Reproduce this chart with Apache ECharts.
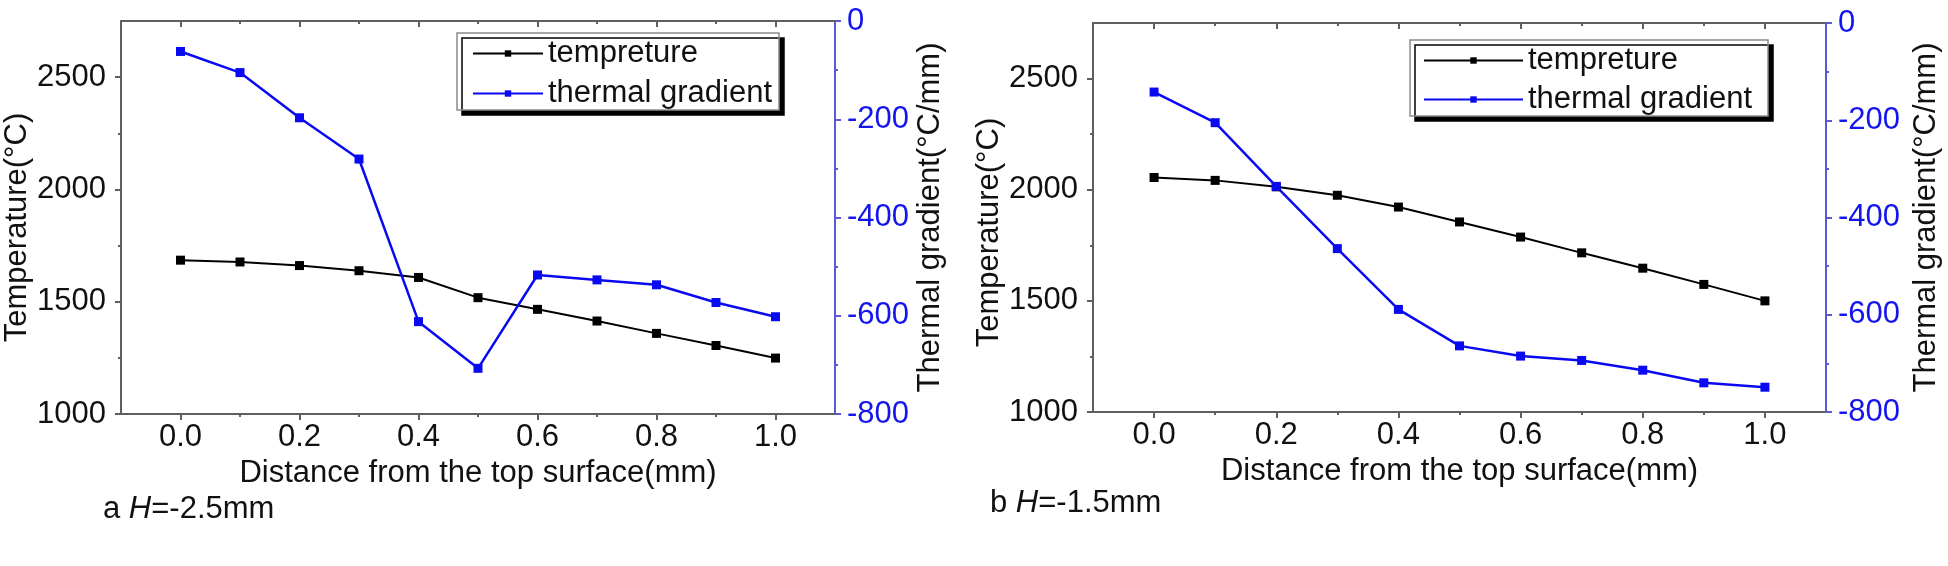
<!DOCTYPE html>
<html>
<head>
<meta charset="utf-8">
<script src="https://cdn.jsdelivr.net/npm/echarts@6/dist/echarts.min.js"></script>
<style>
html,body{margin:0;padding:0;background:#fff;}
#chart{width:1948px;height:566px;}
</style>
</head>
<body>
<div id="chart"></div>
<script>
// ---- data ----
const distance = [0.0, 0.1, 0.2, 0.3, 0.4, 0.5, 0.6, 0.7, 0.8, 0.9, 1.0];
const tempA = [1685, 1677, 1661, 1638, 1608, 1518, 1466, 1414, 1359, 1305, 1249];
const gradA = [-62, -105, -197, -281, -612, -707, -517, -527, -537, -573, -602];
const tempB = [2055, 2042, 2013, 1975, 1922, 1855, 1787, 1716, 1647, 1574, 1500];
const gradB = [-142, -205, -336, -464, -589, -664, -685, -694, -714, -740, -749];
const seriesNames = ['tempreture', 'thermal gradient'];
const xMajorTicks = [0.0, 0.2, 0.4, 0.6, 0.8, 1.0];
const xMinorTicks = [0.1, 0.3, 0.5, 0.7, 0.9];
const tempMajorTicks = [1000, 1500, 2000, 2500];
const tempMinorTicks = [1250, 1750, 2250];
const gradMajorTicks = [-800, -600, -400, -200, 0];
const gradMinorTicks = [-700, -500, -300, -100];
const xTitle = 'Distance from the top surface(mm)';
const yLeftTitle = 'Temperature(°C)';
const yRightTitle = 'Thermal gradient(°C/mm)';

// ---- styling / layout ----
const FONT = "'Liberation Sans', Arial, sans-serif";
const FS = 31;
const AXIS_GRAY = '#5f5f5f';
const AXIS_BLUE = '#5a5ad6';
const LABEL_BLUE = '#1414ee';
const LINE_BLUE = '#0a0af2';

const panels = [
  { grid: { left: 121, top: 21, width: 714, height: 393 },
    temp: tempA, grad: gradA,
    legend: { left: 457, top: 33, itemWidth: 70, padding: [5, 7, 1, 15], itemGap: 9 },
    leftGap: 81, rightGap: 80, leftPad: [0, 20, 0, 0],
    caption: '{n|a }{i|H}{n|=-2.5mm}', capLeft: 103, capTop: 494 },
  { grid: { left: 1093, top: 23, width: 733, height: 389 },
    temp: tempB, grad: gradB,
    legend: { left: 1410, top: 40, itemWidth: 99, padding: [5, 16, 1, 13], itemGap: 8 },
    leftGap: 71, rightGap: 85, leftPad: [0, 30, 0, 0],
    caption: '{n|b }{i|H}{n|=-1.5mm}', capLeft: 990, capTop: 488 }
];

const grids = [], xAxes = [], yAxes = [], series = [], legends = [], titles = [];
const plain = v => String(v);

panels.forEach((p, gi) => {
  grids.push(Object.assign({ containLabel: false }, p.grid));
  const xBase = xAxes.length;
  const common = { type: 'value', gridIndex: gi, min: -0.1, max: 1.1, splitLine: { show: false } };
  // bottom main axis
  xAxes.push(Object.assign({}, common, {
    position: 'bottom',
    axisLine: { onZero: false, lineStyle: { color: AXIS_GRAY, width: 2 } },
    axisTick: { customValues: xMajorTicks, length: 6, inside: false, lineStyle: { color: AXIS_GRAY, width: 2 } },
    axisLabel: { customValues: xMajorTicks, formatter: v => v.toFixed(1), fontSize: FS, fontFamily: FONT, color: '#111', margin: 8 },
    name: xTitle, nameLocation: 'middle', nameGap: 40,
    nameTextStyle: { fontSize: FS, fontFamily: FONT, color: '#111' }
  }));
  // bottom minor ticks
  xAxes.push(Object.assign({}, common, {
    position: 'bottom',
    axisLine: { show: false, onZero: false },
    axisTick: { customValues: xMinorTicks, length: 3, lineStyle: { color: AXIS_GRAY, width: 2 } },
    axisLabel: { show: false }
  }));
  // top axis (major ticks inward)
  xAxes.push(Object.assign({}, common, {
    position: 'top',
    axisLine: { onZero: false, lineStyle: { color: AXIS_GRAY, width: 2 } },
    axisTick: { customValues: xMajorTicks, length: 6, inside: true, lineStyle: { color: AXIS_GRAY, width: 2 } },
    axisLabel: { show: false }
  }));
  xAxes.push(Object.assign({}, common, {
    position: 'top',
    axisLine: { show: false, onZero: false },
    axisTick: { customValues: xMinorTicks, length: 3, inside: true, lineStyle: { color: AXIS_GRAY, width: 2 } },
    axisLabel: { show: false }
  }));

  const yBase = yAxes.length;
  // left temperature axis
  yAxes.push({
    type: 'value', gridIndex: gi, position: 'left', min: 1000, max: 2750,
    splitLine: { show: false },
    axisLine: { show: true, onZero: false, lineStyle: { color: AXIS_GRAY, width: 2 } },
    axisTick: { customValues: tempMajorTicks, length: 6, lineStyle: { color: AXIS_GRAY, width: 2 } },
    axisLabel: { customValues: tempMajorTicks, formatter: plain, fontSize: FS, fontFamily: FONT, color: '#111', margin: 15 },
    name: yLeftTitle, nameLocation: 'middle', nameRotate: 90, nameGap: p.leftGap,
    nameTextStyle: { fontSize: FS, fontFamily: FONT, color: '#111', padding: p.leftPad }
  });
  // right gradient axis
  yAxes.push({
    type: 'value', gridIndex: gi, position: 'right', min: -800, max: 0,
    splitLine: { show: false },
    axisLine: { show: true, onZero: false, lineStyle: { color: AXIS_BLUE, width: 2 } },
    axisTick: { customValues: gradMajorTicks, length: 6, lineStyle: { color: AXIS_BLUE, width: 2 } },
    axisLabel: { customValues: gradMajorTicks, formatter: plain, fontSize: FS, fontFamily: FONT, color: LABEL_BLUE, margin: 12 },
    name: yRightTitle, nameLocation: 'middle', nameRotate: 90, nameGap: p.rightGap,
    nameTextStyle: { fontSize: FS, fontFamily: FONT, color: '#111' }
  });
  // minor tick axes
  yAxes.push({
    type: 'value', gridIndex: gi, position: 'left', min: 1000, max: 2750,
    splitLine: { show: false }, axisLine: { show: false, onZero: false },
    axisTick: { customValues: tempMinorTicks, length: 3, lineStyle: { color: AXIS_GRAY, width: 2 } },
    axisLabel: { show: false }
  });
  yAxes.push({
    type: 'value', gridIndex: gi, position: 'right', min: -800, max: 0,
    splitLine: { show: false }, axisLine: { show: false, onZero: false },
    axisTick: { customValues: gradMinorTicks, length: 3, lineStyle: { color: AXIS_BLUE, width: 2 } },
    axisLabel: { show: false }
  });

  series.push({
    name: seriesNames[0], type: 'line', xAxisIndex: xBase, yAxisIndex: yBase,
    data: distance.map((d, i) => [d, p.temp[i]]),
    symbol: 'rect', symbolSize: 9, color: '#000',
    lineStyle: { color: '#000', width: 2 }, itemStyle: { color: '#000' }
  });
  series.push({
    name: seriesNames[1], type: 'line', xAxisIndex: xBase, yAxisIndex: yBase + 1,
    data: distance.map((d, i) => [d, p.grad[i]]),
    symbol: 'rect', symbolSize: 9, color: LINE_BLUE,
    lineStyle: { color: LINE_BLUE, width: 2.5 }, itemStyle: { color: LINE_BLUE }
  });

  legends.push({
    data: seriesNames, orient: 'vertical',
    left: p.legend.left, top: p.legend.top,
    itemWidth: p.legend.itemWidth, itemHeight: 8, itemGap: p.legend.itemGap,
    padding: p.legend.padding,
    backgroundColor: '#fff', borderColor: '#8a8a8a', borderWidth: 1.5, borderRadius: 0,
    shadowColor: '#000', shadowOffsetX: 5, shadowOffsetY: 5, shadowBlur: 0,
    selectedMode: false,
    textStyle: { fontSize: FS, fontFamily: FONT, color: '#111' }
  });

  titles.push({
    text: p.caption, left: p.capLeft, top: p.capTop, padding: 0,
    textStyle: {
      fontSize: FS, fontWeight: 'normal', fontFamily: FONT, color: '#111',
      rich: {
        n: { fontSize: FS, fontFamily: FONT, color: '#111' },
        i: { fontSize: FS, fontFamily: FONT, fontStyle: 'italic', color: '#111' }
      }
    }
  });
});

const chart = echarts.init(document.getElementById('chart'), null, { renderer: 'canvas' });
chart.setOption({
  animation: false,
  backgroundColor: '#fff',
  title: titles,
  grid: grids,
  xAxis: xAxes,
  yAxis: yAxes,
  legend: legends,
  series: series
});
</script>
</body>
</html>
